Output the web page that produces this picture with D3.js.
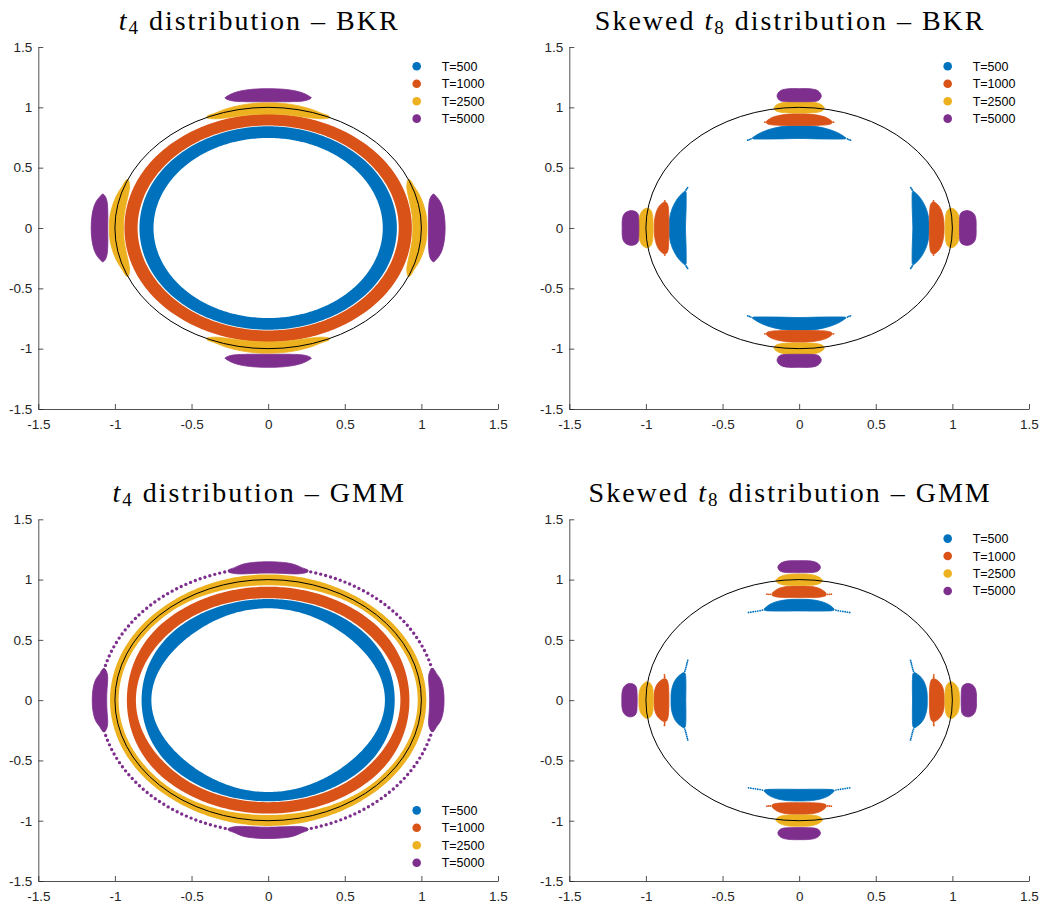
<!DOCTYPE html>
<html><head><meta charset="utf-8">
<script src="https://cdn.jsdelivr.net/npm/d3@7"></script>
<style>body{margin:0;background:#fff;} svg{display:block;}</style>
</head><body>
<svg id="chart" width="1040" height="909"></svg>
<script>
// ---------------- data ----------------
const seriesLabels = ["T=500", "T=1000", "T=2500", "T=5000"];
const seriesColors = ["#0072BD", "#D95319", "#EDB120", "#7E2F8E"];
const tickValues = [-1.5, -1, -0.5, 0, 0.5, 1, 1.5];
const tickLabels = ["-1.5", "-1", "-0.5", "0", "0.5", "1", "1.5"];
const titlePrefix = ["", "Skewed ", "", "Skewed "];
const titleSub = ["4", "8", "4", "8"];
const titleMethod = ["BKR", "BKR", "GMM", "GMM"];
const unitCircleRadius = 1;

// rings: [angle from x-axis (deg), inner radius, outer radius] (first quadrant, mirrored)
const t4BkrRing500  = [[0, 0.748, 0.840], [45, 0.747, 0.842], [90, 0.746, 0.843]];
const t4BkrRing1000 = [[0, 0.852, 0.938], [45, 0.850, 0.942], [90, 0.849, 0.945]];
// blobs: [lateral offset, inner distance, outer distance] along each axis (mirrored, 4 directions)
const t4BkrBlob2500 = [[0, 0.944, 1.037], [0.1, 0.940, 1.032], [0.2, 0.926, 1.012], [0.28, 0.912, 0.985], [0.34, 0.905, 0.955], [0.40, 0.913, 0.924]];
const t4BkrBlob5000 = [[0, 1.047, 1.155], [0.1, 1.046, 1.150], [0.18, 1.048, 1.136], [0.23, 1.053, 1.117], [0.26, 1.062, 1.098], [0.28, 1.076, 1.082]];

const t4GmmRing500  = [[0, 0.762, 0.826], [45, 0.738, 0.840], [90, 0.762, 0.839]];
const t4GmmRing1000 = [[0, 0.863, 0.922], [45, 0.852, 0.940], [90, 0.846, 0.941]];
const t4GmmRing2500 = [[0, 0.976, 1.032], [45, 0.970, 1.032], [90, 0.953, 1.043]];
const t4GmmBlob5000 = [[0, 1.054, 1.148], [0.1, 1.051, 1.142], [0.17, 1.047, 1.126], [0.22, 1.050, 1.099], [0.26, 1.066, 1.078]];
const t4GmmDotRing5000 = 1.10;

const skBkrBlob500  = [[0, 0.742, 0.848], [0.08, 0.740, 0.845], [0.15, 0.738, 0.832], [0.22, 0.737, 0.806], [0.27, 0.737, 0.777], [0.295, 0.738, 0.756], [0.305, 0.742, 0.748]];
const skBkrTail500  = [[0.315, 0.738], [0.325, 0.733], [0.335, 0.728]];
const skBkrBlob1000 = [[0, 0.850, 0.946], [0.08, 0.850, 0.942], [0.14, 0.852, 0.930], [0.18, 0.855, 0.914], [0.205, 0.862, 0.894], [0.215, 0.872, 0.882]];
const skBkrTail1000 = [[0.224, 0.877]];
const skBkrBlob2500 = [[0, 0.953, 1.049], [0.07, 0.954, 1.046], [0.12, 0.959, 1.035], [0.15, 0.970, 1.018], [0.163, 0.988, 0.998]];
const skBkrBlob5000 = [[0, 1.046, 1.155], [0.07, 1.047, 1.154], [0.11, 1.050, 1.145], [0.13, 1.060, 1.130], [0.143, 1.085, 1.105]];

const skGmmBlob500  = [[0, 0.740, 0.836], [0.08, 0.739, 0.833], [0.15, 0.739, 0.816], [0.19, 0.740, 0.795], [0.215, 0.742, 0.772], [0.228, 0.748, 0.756]];
const skGmmTail500  = [[0.24, 0.746], [0.255, 0.742], [0.27, 0.739], [0.285, 0.736], [0.30, 0.733], [0.315, 0.730], [0.33, 0.727]];
const skGmmBlob1000 = [[0, 0.850, 0.947], [0.08, 0.851, 0.943], [0.13, 0.854, 0.928], [0.16, 0.860, 0.906], [0.175, 0.868, 0.888]];
const skGmmTail1000 = [[0.186, 0.878], [0.198, 0.878], [0.21, 0.879]];
const skGmmBlob2500 = [[0, 0.952, 1.046], [0.07, 0.953, 1.043], [0.11, 0.958, 1.032], [0.14, 0.972, 1.012], [0.152, 0.990, 0.996]];
const skGmmBlob5000 = [[0, 1.057, 1.157], [0.06, 1.058, 1.156], [0.10, 1.061, 1.148], [0.125, 1.072, 1.132], [0.138, 1.095, 1.110]];

// ---------------- layout ----------------
const panels = [
  {box: [38.3, 47, 498, 409], legendTop: true,
   shapes: [{type: "ring", p: t4BkrRing500}, {type: "ring", p: t4BkrRing1000}, {type: "blob", p: t4BkrBlob2500}, {type: "blob", p: t4BkrBlob5000}]},
  {box: [569.3, 47, 1029, 409], legendTop: true,
   shapes: [{type: "blob", p: skBkrBlob500, tail: skBkrTail500}, {type: "blob", p: skBkrBlob1000, tail: skBkrTail1000}, {type: "blob", p: skBkrBlob2500}, {type: "blob", p: skBkrBlob5000}]},
  {box: [38.3, 519.3, 498, 881], legendTop: false,
   shapes: [{type: "ring", p: t4GmmRing500}, {type: "ring", p: t4GmmRing1000}, {type: "ring", p: t4GmmRing2500}, {type: "blob", p: t4GmmBlob5000, dots: t4GmmDotRing5000}]},
  {box: [569.3, 519.3, 1029, 881], legendTop: true,
   shapes: [{type: "blob", p: skGmmBlob500, tail: skGmmTail500}, {type: "blob", p: skGmmBlob1000, tail: skGmmTail1000}, {type: "blob", p: skGmmBlob2500}, {type: "blob", p: skGmmBlob5000}]}
];

const svg = d3.select("#chart");
const axisColor = "#262626";
const deg = Math.PI / 180;

// smooth (cosine) interpolation between profile samples
function smoothProfile(p, col) {
  const keys = p.map(d => d[0]);
  return a => {
    if (a <= keys[0]) return p[0][col];
    if (a >= keys[keys.length - 1]) return p[p.length - 1][col];
    const i = d3.bisectRight(keys, a) - 1;
    const t = (a - keys[i]) / (keys[i + 1] - keys[i]);
    const ts = (1 - Math.cos(Math.PI * t)) / 2;
    return p[i][col] + (p[i + 1][col] - p[i][col]) * ts;
  };
}
const dirs = [d => [d[0], d[1]], d => [d[1], d[0]], d => [d[0], -d[1]], d => [-d[1], d[0]]];

panels.forEach((P, pi) => {
  const [bx0, by0, bx1, by1] = P.box;
  const x = d3.scaleLinear().domain([-1.5, 1.5]).range([bx0, bx1]);
  const y = d3.scaleLinear().domain([-1.5, 1.5]).range([by1, by0]);
  const g = svg.append("g");
  const lineC = d3.line().x(d => x(d[0])).y(d => y(d[1])).curve(d3.curveCatmullRomClosed.alpha(0.5));
  const lineL = d3.line().x(d => x(d[0])).y(d => y(d[1])).curve(d3.curveLinearClosed);

  P.shapes.forEach((S, si) => {
    const color = seriesColors[si];
    if (S.dots) {
      g.append("ellipse")
        .attr("cx", x(0)).attr("cy", y(0))
        .attr("rx", x(S.dots) - x(0)).attr("ry", y(0) - y(S.dots))
        .attr("fill", "none").attr("stroke", color)
        .attr("stroke-width", 3.4).attr("stroke-linecap", "round")
        .attr("stroke-dasharray", "0 5.1");
    }
    if (S.type === "ring") {
      const rin = smoothProfile(S.p, 1), rout = smoothProfile(S.p, 2);
      const q = th => { let t = th % 180; return t > 90 ? 180 - t : t; };
      const angs = d3.range(0, 360, 1);
      const outer = angs.map(a => [rout(q(a)) * Math.cos(a * deg), rout(q(a)) * Math.sin(a * deg)]);
      const inner = angs.slice().reverse().map(a => [rin(q(a)) * Math.cos(a * deg), rin(q(a)) * Math.sin(a * deg)]);
      g.append("path").attr("d", lineL(outer) + lineL(inner))
        .attr("fill", color).attr("fill-rule", "evenodd");
    } else {
      const p = S.p, n = p.length, pts = [];
      for (let i = n - 1; i >= 1; i--) pts.push([-p[i][0], p[i][2]]);
      for (let i = 0; i < n; i++) pts.push([p[i][0], p[i][2]]);
      for (let i = n - 1; i >= 0; i--) pts.push([p[i][0], p[i][1]]);
      for (let i = 1; i < n; i++) pts.push([-p[i][0], p[i][1]]);
      dirs.forEach(f => {
        g.append("path").attr("d", lineC(pts.map(f)))
          .attr("fill", color).attr("stroke", color)
          .attr("stroke-width", 0.8).attr("stroke-linejoin", "round");
      });
      if (S.tail) {
        const tpts = S.tail.flatMap(d => [[d[0], d[1]], [-d[0], d[1]]]);
        dirs.forEach(f => {
          g.selectAll(null).data(tpts.map(f)).join("circle")
            .attr("cx", d => x(d[0])).attr("cy", d => y(d[1]))
            .attr("r", 0.9).attr("fill", color);
        });
      }
    }
  });

  // unit circle
  g.append("ellipse")
    .attr("cx", x(0)).attr("cy", y(0))
    .attr("rx", x(unitCircleRadius) - x(0)).attr("ry", y(0) - y(unitCircleRadius))
    .attr("fill", "none").attr("stroke", "#000").attr("stroke-width", 1);

  // axes
  const xAxis = d3.axisBottom(x).tickValues(tickValues).tickFormat((d, i) => tickLabels[i])
    .tickSizeInner(-5).tickSizeOuter(0).tickPadding(10);
  const yAxis = d3.axisLeft(y).tickValues(tickValues).tickFormat((d, i) => tickLabels[i])
    .tickSizeInner(-5).tickSizeOuter(0).tickPadding(6);
  const gx = svg.append("g").attr("transform", `translate(0,${by1})`).call(xAxis);
  const gy = svg.append("g").attr("transform", `translate(${bx0},0)`).call(yAxis);
  [gx, gy].forEach(ax => {
    ax.select(".domain").attr("stroke", axisColor).attr("stroke-width", 0.8);
    ax.selectAll(".tick line").attr("stroke", axisColor).attr("stroke-width", 0.8);
    ax.selectAll(".tick text").attr("fill", axisColor)
      .style("font-family", "'Liberation Sans', Arial, sans-serif").style("font-size", "13.5px");
  });

  // title
  const title = svg.append("text")
    .attr("x", (bx0 + bx1) / 2 - 9).attr("y", by0 - 17)
    .attr("text-anchor", "middle")
    .style("font-family", "'Liberation Serif', 'Times New Roman', serif")
    .style("font-size", "28px").style("letter-spacing", "2px").attr("fill", "#000");
  title.append("tspan").text(titlePrefix[pi]);
  title.append("tspan").style("font-style", "italic").text("t");
  title.append("tspan").attr("dy", 4).style("font-size", "19px").text(titleSub[pi]);
  title.append("tspan").attr("dy", -4).text(" distribution \u2013 " + titleMethod[pi]);

  // legend
  const lx = bx1 - 81.3;
  const ly0 = P.legendTop ? by0 + 19.3 : by1 - 18.3 - 3 * 17.45;
  seriesLabels.forEach((lab, i) => {
    const yy = ly0 + i * 17.45;
    svg.append("circle").attr("cx", lx).attr("cy", yy).attr("r", 4.3).attr("fill", seriesColors[i]);
    svg.append("text").attr("x", lx + 25).attr("y", yy).attr("dy", "0.36em")
      .style("font-family", "'Liberation Sans', Arial, sans-serif").style("font-size", "12.5px")
      .attr("fill", "#000").text(lab);
  });
});
</script>
</body></html>
